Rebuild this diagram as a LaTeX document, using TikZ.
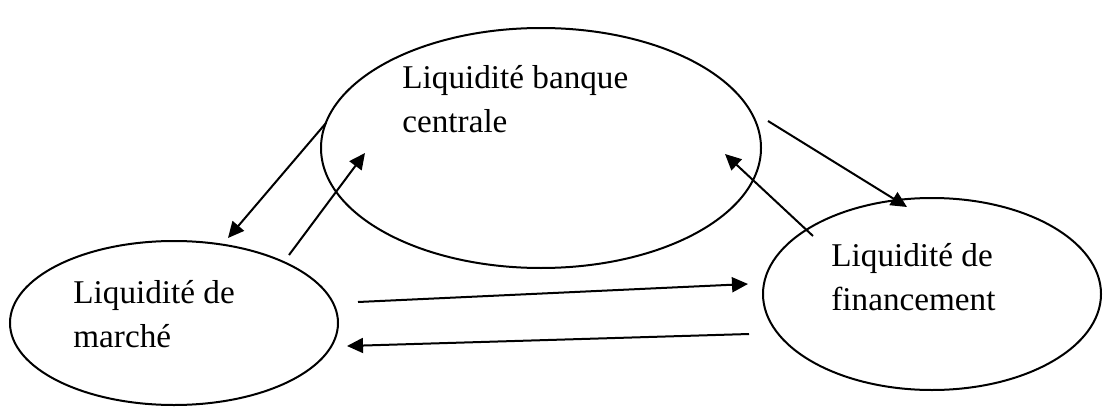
\documentclass[tikz,border=0pt]{standalone}
\usepackage{fontspec}
\setmainfont{Liberation Serif}
\usetikzlibrary{shapes,arrows.meta,positioning}
\tikzset{
    bulle/.style={
        ellipse,
        draw,
        line width=1pt,
        inner sep=0pt
    },
    legende/.style={
        align=left,
        inner sep=0pt,
        anchor=base west,
        font=\fontsize{16.6}{22}\selectfont
    }
}

\begin{document}
\begin{tikzpicture}[
        x=0.5pt, y=-0.5pt,
        fleche/.style={draw, line width=1pt, -{Triangle[length=8pt,width=7.5pt]}}
    ]
    \useasboundingbox (0,0) rectangle (1103,407);
    % les trois liquidites
    \node[bulle, minimum width=220pt, minimum height=120pt] (banque) at (541,148) {};
    \node[bulle, minimum width=164pt, minimum height=82pt] (marche) at (174,323) {};
    \node[bulle, minimum width=169pt, minimum height=96pt] (financement) at (932,294) {};
    % base = ligne du bas
    \node[legende] (banqueTxt) at (402,132) {Liquidité banque\\centrale};
    \node[legende] (marcheTxt) at (73,347) {Liquidité de\\marché};
    \node[legende] (financementTxt) at (831,310) {Liquidité de\\financement};
    % extremites des fleches
    \coordinate (bm-s) at (326,123);
    \coordinate (bm-e) at (228,238);
    \coordinate (mb-s) at (289,255);
    \coordinate (mb-e) at (365,153);
    \coordinate (bf-s) at (768,121);
    \coordinate (bf-e) at (907,207);
    \coordinate (fb-s) at (813,236);
    \coordinate (fb-e) at (725,154);
    \coordinate (mf-s) at (358,302);
    \coordinate (mf-e) at (748,284);
    \coordinate (fm-s) at (749,334);
    \coordinate (fm-e) at (347,346);
    \draw[fleche] (bm-s) -- (bm-e);
    \draw[fleche] (mb-s) -- (mb-e);
    \draw[fleche] (bf-s) -- (bf-e);
    \draw[fleche] (fb-s) -- (fb-e);
    \draw[fleche] (mf-s) -- (mf-e);
    \draw[fleche] (fm-s) -- (fm-e);
\end{tikzpicture}
\end{document}
